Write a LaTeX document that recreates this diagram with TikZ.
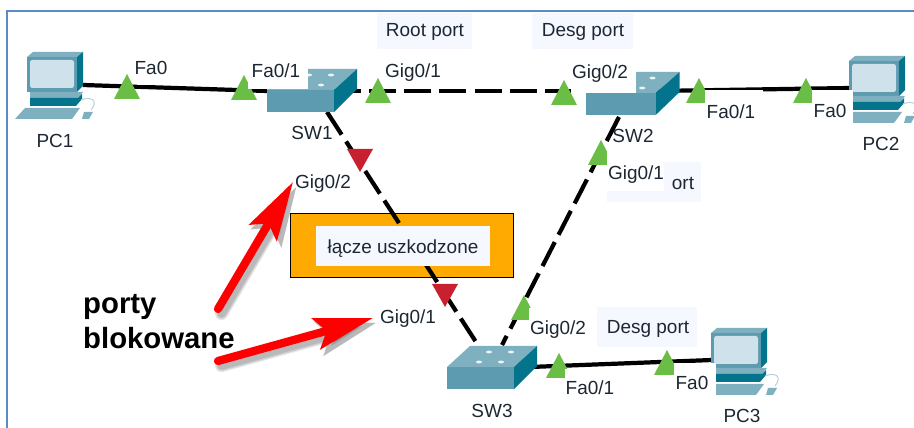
\documentclass[tikz,border=0pt]{standalone}
\usepackage{fontspec}
\setmainfont{Liberation Sans}
\usetikzlibrary{arrows.meta}
\definecolor{framecol}{HTML}{5B8BC6}
\definecolor{lightbox}{HTML}{F6F8FF}
\definecolor{portgreen}{HTML}{6ABD45}
\definecolor{portred}{HTML}{C9202F}
\definecolor{boxorange}{HTML}{FFAA00}
\definecolor{devfront}{HTML}{5C9BB0}
\definecolor{devside}{HTML}{04748C}
\definecolor{devtop}{HTML}{7FB0C0}
\definecolor{devscreen}{HTML}{CFE1EA}
\definecolor{textcol}{HTML}{1C2733}
\tikzset{
  portlabel/.style={font=\fontsize{16.2}{17}\selectfont,text=textcol,inner sep=0pt,yshift=-1.2pt},
  biglabel/.style={font=\fontsize{25}{29}\selectfont\bfseries,text=black,inner sep=0pt,anchor=west},
  bluelink/.style={line width=3.6pt},
  deadlink/.style={line width=3.6pt,dash pattern=on 23pt off 7pt},
  redarrow/.style={line width=7pt,line cap=round,red,-{Stealth[length=50pt,width=27pt,inset=9pt]}},
  arrowshade/.style={line width=#1,line cap=round,black,opacity=0.1,-{Stealth[length=50pt,width=29pt,inset=9pt]}},
  greenport/.pic={\fill[portgreen] (-13,0) -- (13,0) -- (0,-25) -- cycle;},
  redport/.pic={\fill[portred] (-13,0) -- (13,0) -- (0,23) -- cycle;},
  switchbox/.pic={
    \fill[devtop] (0,0) -- (23,-21) -- (90,-21) -- (67,0) -- cycle;
    \fill[devside] (67,0) -- (90,-21) -- (90,-1) -- (67,22) -- cycle;
    \fill[devfront] (0,0) rectangle (67,22);
    \foreach \dotx/\doty in {32/-5,42/-15,54/-5,64/-15}
      \fill[white!85!devtop] (\dotx,\doty) ellipse (3 and 1.4);
  },
  pcbox/.pic={
    \fill[devtop] (0,5) -- (6,0) -- (56,0) -- (50,5) -- cycle;
    \fill[devside] (50,5) -- (56,0) -- (56,34) -- (50,40) -- cycle;
    \fill[devfront] (0,5) rectangle (50,40);
    \fill[devscreen,rounded corners=2] (3,8) rectangle (47,36);
    \fill[devtop] (3,40) -- (56,40) -- (51,46) -- (3,46) -- cycle;
    \fill[devside] (3,46) -- (51,46) -- (55,42) -- (55,47) -- (49,54) -- (3,54) -- cycle;
    \fill[devtop] (-2,56) -- (53,56) -- (45,67) -- (-12,67) -- cycle;
    \draw[devtop!60!white,line width=0.8pt] (54,48) .. controls (64,44) and (72,48) .. (64,58);
    \fill[devtop] (57,60) -- (66,60) -- (62,67) -- (55,67) -- cycle;
  },
}
\begin{document}
\begin{tikzpicture}[x=0.03cm,y=-0.03cm]
    \useasboundingbox (0,0) rectangle (914,428);
    \draw[framecol,line width=1.3pt] (7,428) -- (7,11) -- (914,11);
    % boxes behind the links
    \fill[lightbox] (377,13) rectangle (472,49);
    \fill[lightbox] (532,13) rectangle (633,49);
    \fill[lightbox] (607,162) rectangle (701,202);
    \fill[lightbox] (597,307) rectangle (697,347);
    \draw[fill=boxorange,line width=0.8pt] (290,213) rectangle (513,277);
    % link ends
    \coordinate (PC1link) at (83,85);
    \coordinate (SW1west) at (267,91);
    \coordinate (SW1east) at (334,91);
    \coordinate (SW1south) at (327,112);
    \coordinate (SW2west) at (587,91);
    \coordinate (SW2east) at (656,91);
    \coordinate (SW2south) at (619,117);
    \coordinate (PC2link) at (851,88);
    \coordinate (SW3north1) at (476,342);
    \coordinate (SW3north2) at (502,345);
    \coordinate (SW3east) at (530,367);
    \coordinate (PC3link) at (712,360);
    \draw[bluelink] (PC1link) -- (SW1west);
    \draw[bluelink] (SW2east) -- (PC2link);
    \draw[bluelink] (SW3east) -- (PC3link);
    \draw[deadlink] (SW1east) -- (SW2west);
    \draw[deadlink] (SW1south) -- (SW3north1);
    \draw[deadlink] (SW2south) -- (SW3north2);
    % ports
    \foreach \px/\py in {127/99,244/100,378/103,564/105,699/103,806/103,601/165,524/320,559/378,667/375}
      \pic at (\px,\py) {greenport};
    \pic at (360,149) {redport};
    \pic at (445,284) {redport};
    % devices
    \pic at (27,52) {pcbox};
    \pic at (849,56) {pcbox};
    \pic at (711,328) {pcbox};
    \pic at (267,90) {switchbox};
    \pic[xscale=1.04] at (586,93) {switchbox};
    \pic at (447,367) {switchbox};
    % labels hide what is under them
    \foreach \xa/\ya/\xb/\yb in {137/55/175/85,248/58/308/89,385/58/445/88,571/58/636/93,705/90/763/125,812/90/853/125,607/150/664/191,529/308/597/342,565/369/620/400,674/363/716/398}
      \fill[white] (\xa,\ya) rectangle (\xb,\yb);
    \node[fill=lightbox,minimum width=148pt,minimum height=34pt,inner sep=0pt] (failbox) at (403,246) {};
    \node[portlabel] (failtext) at (403,247) {łącze uszkodzone};
    \node[portlabel] (rootport) at (425,31) {Root port};
    \node[portlabel] (desgSW2) at (583,31) {Desg port};
    \node[portlabel] (desgSW3) at (648,328) {Desg port};
    \node[portlabel] (ortrest) at (683,182) {ort};
    \node[portlabel] (PC1) at (55,140) {PC1};
    \node[portlabel] (PC2) at (881,143) {PC2};
    \node[portlabel] (PC3) at (742,415) {PC3};
    \node[portlabel] (SW1) at (312,132) {SW1};
    \node[portlabel] (SW2) at (633,135) {SW2};
    \node[portlabel] (SW3) at (492,410) {SW3};
    \node[portlabel] (faPC1) at (151,67) {Fa0};
    \node[portlabel] (faSW1) at (276,69) {Fa0/1};
    \node[portlabel] (gigSW1a) at (413,71) {Gig0/1};
    \node[portlabel] (gigSW1b) at (323,182) {Gig0/2};
    \node[portlabel] (gigSW2b) at (600,72) {Gig0/2};
    \node[portlabel] (faSW2) at (731,110) {Fa0/1};
    \node[portlabel] (faPC2) at (830,110) {Fa0};
    \node[portlabel] (gigSW2a) at (636,173) {Gig0/1};
    \node[portlabel] (gigSW3a) at (408,317) {Gig0/1};
    \node[portlabel] (gigSW3b) at (558,328) {Gig0/2};
    \node[portlabel] (faSW3) at (590,386) {Fa0/1};
    \node[portlabel] (faPC3) at (692,382) {Fa0};
    \node[biglabel] (porty) at (83,307) {porty};
    \node[biglabel] (blokowane) at (83,338) {blokowane};
    % red arrows
    \coordinate (tailA) at (218,309);
    \coordinate (tipA) at (293,182);
    \coordinate (tailB) at (218,361);
    \coordinate (tipB) at (373,318);
    \foreach \wd in {11pt,9pt,7pt}{
      \draw[arrowshade=\wd] ([xshift=3pt,yshift=-4pt]tailA) -- ([xshift=3pt,yshift=-4pt]tipA);
      \draw[arrowshade=\wd] ([xshift=3pt,yshift=-4pt]tailB) -- ([xshift=3pt,yshift=-4pt]tipB);
    }
    \draw[redarrow] (tailA) -- (tipA);
    \draw[redarrow] (tailB) -- (tipB);
\end{tikzpicture}
\end{document}
